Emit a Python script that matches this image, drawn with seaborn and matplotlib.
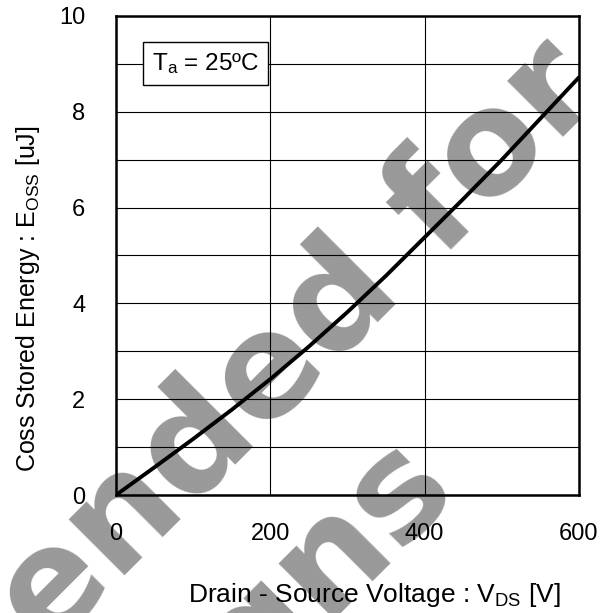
import matplotlib
matplotlib.use("Agg")
import matplotlib.pyplot as plt
from matplotlib.ticker import MultipleLocator
import seaborn as sns
import pandas as pd

# Eoss curve
vds = [0, 50, 100, 150, 200, 250, 300, 350, 400, 450, 500, 550, 600]
eoss = [0, 0.58, 1.17, 1.78, 2.42, 3.10, 3.82, 4.58, 5.38, 6.18, 7.00, 7.86, 8.72]
x_ticks = [0, 200, 400, 600]
y_ticks = [0, 2, 4, 6, 8, 10]

df = pd.DataFrame({"vds": vds, "eoss": eoss})

sns.set_theme(style="white")
plt.rcParams['font.family'] = ['Liberation Sans', 'DejaVu Sans']
plt.rcParams['mathtext.fontset'] = 'custom'
plt.rcParams['mathtext.rm'] = 'Liberation Sans'
plt.rcParams['mathtext.default'] = 'regular'

fig = plt.figure(figsize=(6.09, 6.13), dpi=100)
fig.patch.set_facecolor("white")
ax = fig.add_axes([116 / 609, 1 - 495 / 613, 463 / 609, 479 / 613])
ax.patch.set_alpha(0)

# watermark behind the axes
wm = dict(rotation=45, rotation_mode="anchor", ha="right", va="baseline",
          fontsize=104, fontweight="bold", color="#999999",
          family=["DejaVu Sans"], zorder=-5, transform=fig.transFigure)
fig.text(606 / 609, 1 - 95 / 613, "Not recommended for", **wm)
fig.text(460 / 609, 1 - 494 / 613, "new designs", **wm)

sns.lineplot(data=df, x="vds", y="eoss", ax=ax, color="black", linewidth=2.8, zorder=4)

ax.set_xlim(0, 600)
ax.set_ylim(0, 10)
ax.set_xticks(x_ticks)
ax.set_yticks(y_ticks)
ax.yaxis.set_minor_locator(MultipleLocator(1))
ax.grid(which="both", color="black", linewidth=0.8, zorder=1)
ax.set_axisbelow(True)
ax.tick_params(axis="both", which="both", length=0, labelsize=17, colors="black")
ax.tick_params(axis="y", pad=22)
ax.tick_params(axis="x", pad=20)
for s in ax.spines.values():
    s.set_color("black")
    s.set_linewidth(1.8)
    s.set_visible(True)

ax.set_xlabel("Drain - Source Voltage : V$_{DS}$ [V]", fontsize=19, color="black")
ax.set_ylabel("Coss Stored Energy : E$_{OSS}$ [uJ]", fontsize=18, color="black")
ax.xaxis.set_label_coords(0.559, -0.18)
ax.yaxis.set_label_coords(-0.16, 0.41)

ax.text(0.193, 0.901, "T$_a$ = 25ºC", transform=ax.transAxes, ha="center", va="center",
        fontsize=17.5, color="black", zorder=6,
        bbox=dict(boxstyle="square,pad=0.38", facecolor="white", edgecolor="black", linewidth=1.0))

fig.savefig("out.png", dpi=100)
